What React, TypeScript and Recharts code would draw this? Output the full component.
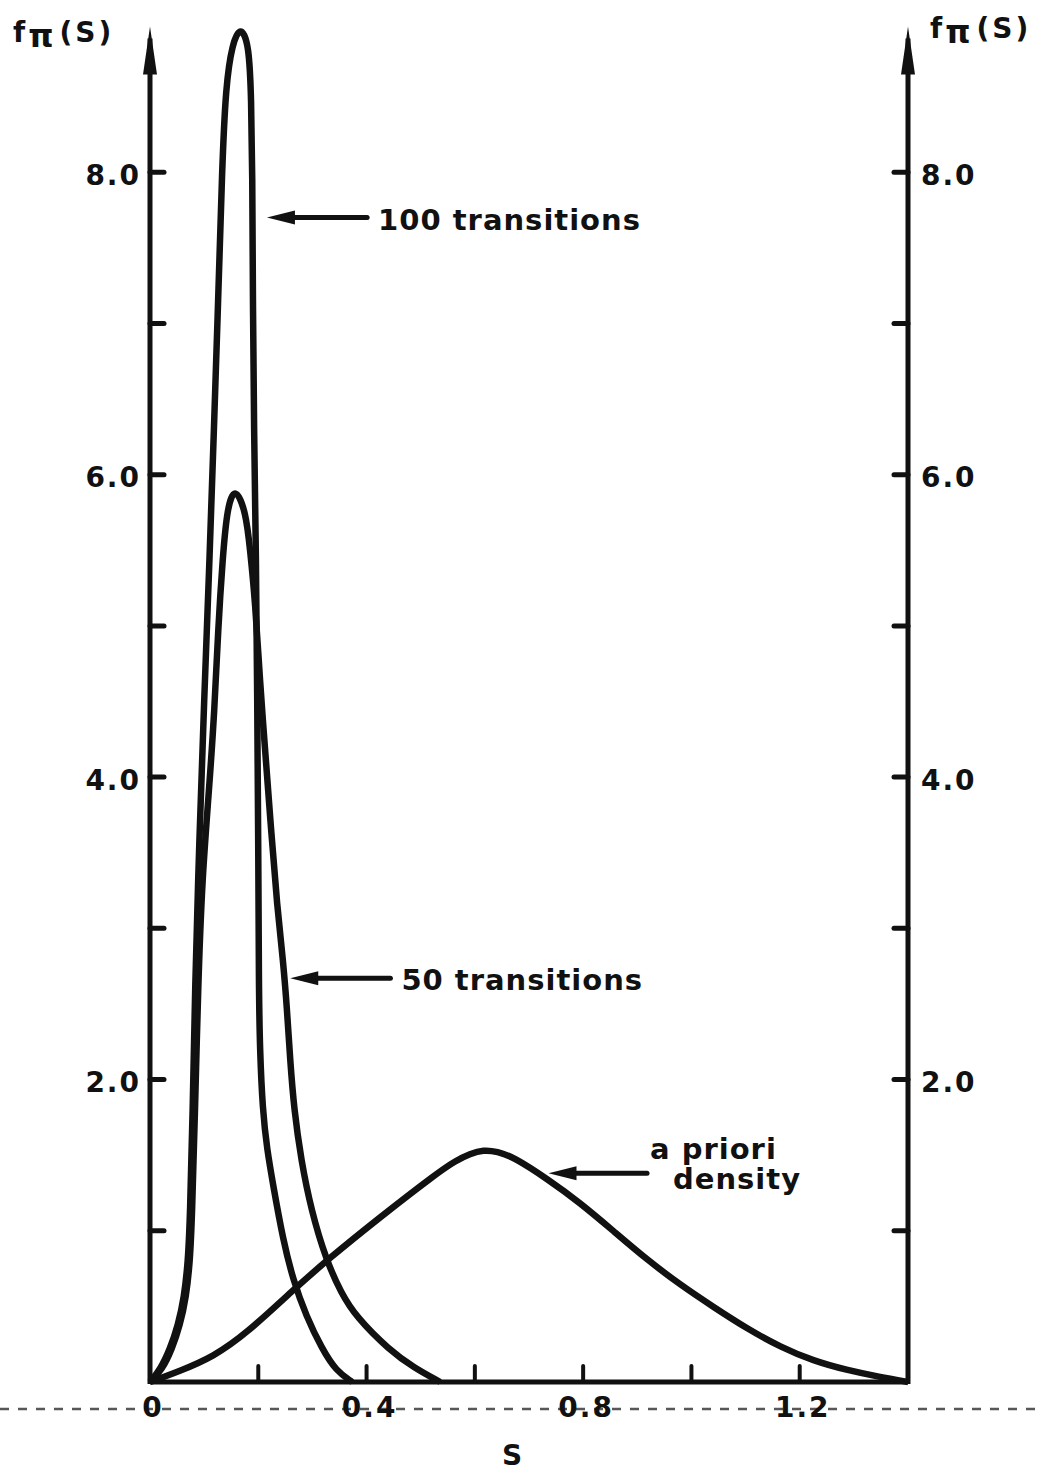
import React from "react"
import { LineChart, Line, XAxis, YAxis, ReferenceLine } from "recharts"

// posterior densities f_pi(S)
const S_100 = [0, 0.0185, 0.037, 0.0518, 0.0628, 0.0702, 0.0739, 0.079, 0.083, 0.091, 0.1, 0.11, 0.118, 0.126, 0.133, 0.14, 0.152, 0.167, 0.183, 0.187, 0.189, 0.19, 0.192, 0.196, 0.198, 0.2, 0.201, 0.203, 0.208, 0.2163, 0.2274, 0.2458, 0.2643, 0.2884, 0.3179, 0.3438, 0.3734]
const F_100 = [0, 0.079, 0.218, 0.377, 0.556, 0.794, 1.091, 1.799, 2.593, 3.585, 4.511, 5.437, 6.296, 7.156, 8.016, 8.578, 8.85, 8.97, 8.85, 8.479, 8.016, 7.156, 6.296, 5.437, 4.511, 3.585, 2.593, 2.196, 1.799, 1.534, 1.303, 0.939, 0.675, 0.437, 0.218, 0.073, 0]

const S_50 = [0, 0.0222, 0.0407, 0.0555, 0.0665, 0.0739, 0.0776, 0.0832, 0.0887, 0.0961, 0.1091, 0.1192, 0.1257, 0.134, 0.1423, 0.1571, 0.1774, 0.1848, 0.1941, 0.2033, 0.2126, 0.2237, 0.2348, 0.2458, 0.2532, 0.2588, 0.2662, 0.2791, 0.2976, 0.3253, 0.353, 0.3808, 0.4418, 0.488, 0.536]
const F_50 = [0, 0.079, 0.218, 0.377, 0.556, 0.794, 1.091, 1.799, 2.593, 3.32, 3.915, 4.444, 4.974, 5.437, 5.78, 5.93, 5.75, 5.503, 5.172, 4.623, 4.18, 3.651, 3.142, 2.791, 2.46, 2.13, 1.799, 1.468, 1.138, 0.807, 0.589, 0.43, 0.212, 0.093, 0]

const S_PRIOR = [0, 0.0555, 0.1164, 0.1793, 0.2643, 0.3272, 0.4251, 0.5305, 0.5638, 0.5915, 0.6155, 0.6414, 0.671, 0.7338, 0.7948, 0.8558, 0.9187, 0.9797, 1.0407, 1.1035, 1.1645, 1.2255, 1.2865, 1.3475, 1.4]
const F_PRIOR = [0, 0.073, 0.165, 0.324, 0.608, 0.807, 1.091, 1.382, 1.462, 1.51, 1.535, 1.525, 1.488, 1.343, 1.184, 0.999, 0.807, 0.642, 0.496, 0.351, 0.231, 0.139, 0.079, 0.033, 0]

const X_TICKS = [0, 0.2, 0.4, 0.6, 0.8, 1.0, 1.2, 1.4]
const X_LABELS = [0, 0.4, 0.8, 1.2]
const Y_TICKS = [1, 2, 3, 4, 5, 6, 7, 8]
const Y_LABELS = [2, 4, 6, 8]
const Y_TOP = 8.95 // where the axis arrows end

const INK = "#111"
const FONT = "'DejaVu Sans', sans-serif"

const zip = (s: number[], f: number[]) => s.map((x, i) => ({ s: x, f: f[i] }))
const data100 = zip(S_100, F_100)
const data50 = zip(S_50, F_50)
const dataPrior = zip(S_PRIOR, F_PRIOR)

// arrow callouts: tip -> tail, text follows the tail
const callouts = [
  { lines: ["100 transitions"], tip: { x: 0.216, y: 7.7 }, tail: { x: 0.401, y: 7.7 } },
  { lines: ["50 transitions"], tip: { x: 0.259, y: 2.67 }, tail: { x: 0.444, y: 2.67 } },
  { lines: ["a priori", "density"], tip: { x: 0.736, y: 1.38 }, tail: { x: 0.918, y: 1.38 } },
]

const textStyle = { fontFamily: FONT, fontWeight: 700, fill: INK }

const LeftTick = (p: any) => {
  const { x, y, payload } = p
  return (
    <g>
      <line x1={x} x2={x + 14} y1={y} y2={y} stroke={INK} strokeWidth={5} strokeLinecap="round" />
      {Y_LABELS.includes(payload.value) && (
        <text x={x - 9} y={y + 3} textAnchor="end" dominantBaseline="central" fontSize={28} letterSpacing={2} {...textStyle}>
          {payload.value.toFixed(1)}
        </text>
      )}
    </g>
  )
}

const RightTick = (p: any) => {
  const { x, y, payload } = p
  return (
    <g>
      <line x1={x - 14} x2={x} y1={y} y2={y} stroke={INK} strokeWidth={5} strokeLinecap="round" />
      {Y_LABELS.includes(payload.value) && (
        <text x={x + 13} y={y + 3} textAnchor="start" dominantBaseline="central" fontSize={28} letterSpacing={2} {...textStyle}>
          {payload.value.toFixed(1)}
        </text>
      )}
    </g>
  )
}

const BottomTick = (p: any) => {
  const { x, y, payload } = p
  return (
    <g>
      <line x1={x} x2={x} y1={y} y2={y - 16} stroke={INK} strokeWidth={4} strokeLinecap="round" />
      {X_LABELS.includes(payload.value) && (
        <text x={x + 3} y={y + 25} textAnchor="middle" dominantBaseline="central" fontSize={28} letterSpacing={2} {...textStyle}>
          {payload.value === 0 ? "0" : payload.value.toFixed(1)}
        </text>
      )}
    </g>
  )
}

// vertical axis with arrowhead; segment goes from the tip down to zero
const axisWithArrow = (p: any) => {
  const { x1, y1, x2, y2 } = p
  return (
    <g>
      <line x1={x1} y1={y1 + 10} x2={x2} y2={y2 + 2} stroke={INK} strokeWidth={5} />
      <polygon points={`${x1},${y1 - 2} ${x1 - 7},${y1 + 46} ${x1 + 7},${y1 + 46}`} fill={INK} />
    </g>
  )
}

const calloutShape = (lines: string[]) => (p: any) => {
  const { x1, y1, x2, y2 } = p
  return (
    <g>
      <line x1={x1 + 20} y1={y1} x2={x2} y2={y2} stroke={INK} strokeWidth={5} strokeLinecap="round" />
      <polygon points={`${x1},${y1} ${x1 + 28},${y1 - 7} ${x1 + 28},${y1 + 7}`} fill={INK} />
      {lines.length === 1 ? (
        <text x={x2 + 11} y={y2 + 2} dominantBaseline="central" fontSize={29} letterSpacing={1} {...textStyle}>
          {lines[0]}
        </text>
      ) : (
        <>
          <text x={x2 + 3} y={y2 - 24} dominantBaseline="central" fontSize={29} letterSpacing={1} {...textStyle}>
            {lines[0]}
          </text>
          <text x={x2 + 26} y={y2 + 6} dominantBaseline="central" fontSize={29} letterSpacing={1} {...textStyle}>
            {lines[1]}
          </text>
        </>
      )}
    </g>
  )
}

const Title = ({ x, y }: { x: number; y: number }) => (
  <text x={x} y={y} fontSize={28} {...textStyle}>
    f
    <tspan fontSize={32} dy={5} dx={3}>π</tspan>
    <tspan fontSize={28} dy={-5} dx={6} letterSpacing={3}>(S)</tspan>
  </text>
)

export default function App() {
  return (
    <div style={{ position: "absolute", left: 0, top: 0, width: 1038, height: 1473, background: "#fff" }}>
      <LineChart width={1038} height={1473} margin={{ top: 21, right: 70, bottom: 51, left: 90 }}>
        <XAxis
          type="number"
          dataKey="s"
          domain={[0, 1.4]}
          ticks={X_TICKS}
          interval={0}
          tickSize={0}
          tickMargin={0}
          tickLine={false}
          tick={BottomTick}
          height={40}
          axisLine={{ stroke: INK, strokeWidth: 5 }}
          label={{
            content: (p: any) => (
              <text x={p.viewBox.x + p.viewBox.width / 2 - 17} y={1455} textAnchor="middle" dominantBaseline="central" fontSize={28} {...textStyle}>
                S
              </text>
            ),
          }}
        />
        <YAxis
          yAxisId="left"
          type="number"
          domain={[0, 9]}
          ticks={Y_TICKS}
          interval={0}
          width={60}
          tickSize={0}
          tickMargin={0}
          tickLine={false}
          tick={LeftTick}
          axisLine={false}
        />
        <YAxis
          yAxisId="right"
          orientation="right"
          type="number"
          domain={[0, 9]}
          ticks={Y_TICKS}
          interval={0}
          width={60}
          tickSize={0}
          tickMargin={0}
          tickLine={false}
          tick={RightTick}
          axisLine={false}
        />
        <ReferenceLine yAxisId="left" segment={[{ x: 0, y: Y_TOP }, { x: 0, y: 0 }]} ifOverflow="visible" shape={axisWithArrow} />
        <ReferenceLine yAxisId="left" segment={[{ x: 1.4, y: Y_TOP }, { x: 1.4, y: 0 }]} ifOverflow="visible" shape={axisWithArrow} />
        <Line yAxisId="right" data={dataPrior} dataKey="f" type="basis" stroke={INK} strokeWidth={6.5} dot={false} activeDot={false} isAnimationActive={false} />
        <Line yAxisId="left" data={data50} dataKey="f" type="basis" stroke={INK} strokeWidth={6.5} dot={false} activeDot={false} isAnimationActive={false} />
        <Line yAxisId="left" data={data100} dataKey="f" type="basis" stroke={INK} strokeWidth={6.5} dot={false} activeDot={false} isAnimationActive={false} />
        {callouts.map((c) => (
          <ReferenceLine key={c.lines[0]} yAxisId="left" segment={[c.tip, c.tail]} ifOverflow="visible" shape={calloutShape(c.lines)} />
        ))}
      </LineChart>
      <svg width={1038} height={1473} style={{ position: "absolute", left: 0, top: 0, pointerEvents: "none" }}>
        <Title x={13} y={42} />
        <Title x={930} y={38} />
        <line x1={0} x2={1038} y1={1409} y2={1409} stroke={INK} strokeWidth={2.5} strokeDasharray="9 9" opacity={0.7} />
      </svg>
    </div>
  )
}
